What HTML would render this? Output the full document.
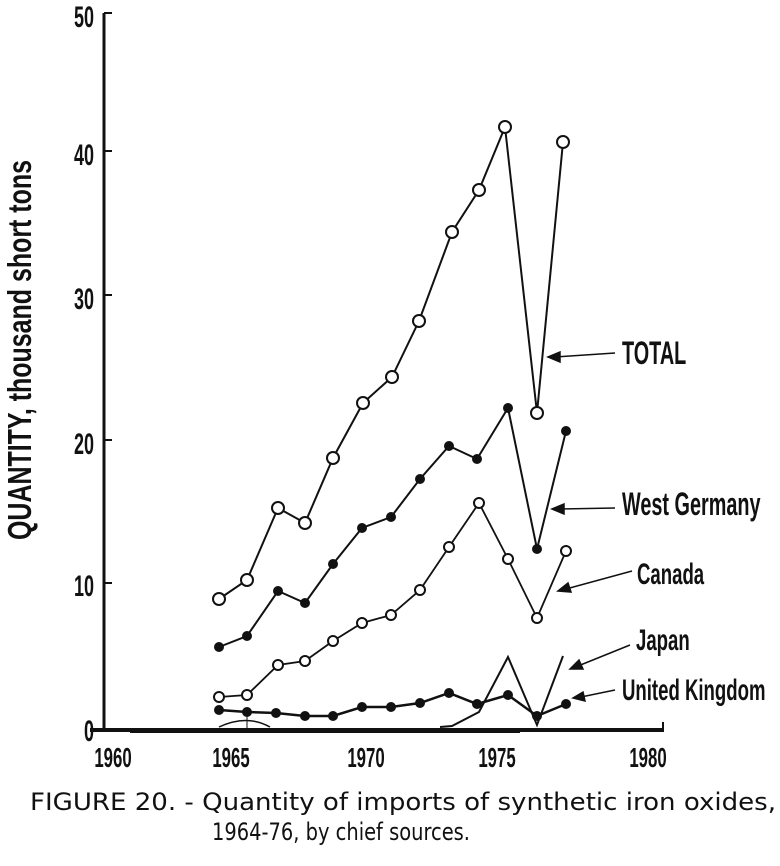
<!DOCTYPE html>
<html><head><meta charset="utf-8"><style>
html,body{margin:0;padding:0;background:#fff;}
svg{display:block;}
.c{font-family:"Liberation Sans Narrow","Liberation Sans",sans-serif;font-weight:bold;fill:#111;}
.cap{font-family:"DejaVu Sans","Liberation Sans",sans-serif;fill:#111;font-size:24px;}
</style></head><body>
<svg width="780" height="866" viewBox="0 0 780 866" xmlns="http://www.w3.org/2000/svg">
<g stroke="#111" fill="none">
<line x1="104" y1="13" x2="104" y2="731" stroke-width="3"/>
<line x1="104" y1="13" x2="112" y2="13" stroke-width="2"/>
<line x1="104" y1="151" x2="112" y2="151" stroke-width="2"/>
<line x1="104" y1="295" x2="112" y2="295" stroke-width="2"/>
<line x1="104" y1="440" x2="112" y2="440" stroke-width="2"/>
<line x1="104" y1="583" x2="112" y2="583" stroke-width="2"/>
<line x1="90" y1="730" x2="663" y2="730" stroke-width="4"/>
<line x1="663" y1="722" x2="663" y2="732" stroke-width="2"/>
<rect x="130" y="728" width="390" height="5" fill="#111" stroke="none"/>
<path d="M219,727 Q247,714 270,727" stroke-width="1.5"/>
<line x1="247" y1="716" x2="247" y2="728" stroke-width="1"/>
<polyline points="440,727 452,726 479,712 508,657 537,725 563,656" stroke-width="2"/>
<polyline points="219,599 247,580 278,508 305,523 333,458 363,403 392,377 419,321 452,232 479,190 505,127 537,413 563,142" stroke-width="2"/>
<polyline points="219,647 247,636 278,591 305,603 333,564 362,528 391,517 420,479 449,446 477,459 508,408 537,549 566,431" stroke-width="2"/>
<polyline points="219,697 247,695 278,665 305,661 333,641 362,623 391,615 420,590 449,547 479,503 508,559 537,618 566,551" stroke-width="1.8"/>
<polyline points="219,710 247,712 276,713 305,716 333,716 362,707 391,707 420,703 449,693 477,704 508,695 537,716 566,704" stroke-width="2.5"/>
</g>
<g fill="#fff" stroke="#111" stroke-width="2">
<circle cx="219" cy="599" r="6"/><circle cx="247" cy="580" r="6"/><circle cx="278" cy="508" r="6"/><circle cx="305" cy="523" r="6"/><circle cx="333" cy="458" r="6"/><circle cx="363" cy="403" r="6"/><circle cx="392" cy="377" r="6"/><circle cx="419" cy="321" r="6"/><circle cx="452" cy="232" r="6"/><circle cx="479" cy="190" r="6"/><circle cx="505" cy="127" r="6"/><circle cx="537" cy="413" r="6"/><circle cx="563" cy="142" r="6"/>
<circle cx="219" cy="697" r="5"/><circle cx="247" cy="695" r="5"/><circle cx="278" cy="665" r="5"/><circle cx="305" cy="661" r="5"/><circle cx="333" cy="641" r="5"/><circle cx="362" cy="623" r="5"/><circle cx="391" cy="615" r="5"/><circle cx="420" cy="590" r="5"/><circle cx="449" cy="547" r="5"/><circle cx="479" cy="503" r="5"/><circle cx="508" cy="559" r="5"/><circle cx="537" cy="618" r="5"/><circle cx="566" cy="551" r="5"/>
</g>
<g fill="#111">
<circle cx="219" cy="647" r="5"/><circle cx="247" cy="636" r="5"/><circle cx="278" cy="591" r="5"/><circle cx="305" cy="603" r="5"/><circle cx="333" cy="564" r="5"/><circle cx="362" cy="528" r="5"/><circle cx="391" cy="517" r="5"/><circle cx="420" cy="479" r="5"/><circle cx="449" cy="446" r="5"/><circle cx="477" cy="459" r="5"/><circle cx="508" cy="408" r="5"/><circle cx="537" cy="549" r="5"/><circle cx="566" cy="431" r="5"/>
<circle cx="219" cy="710" r="5"/><circle cx="247" cy="712" r="5"/><circle cx="276" cy="713" r="5"/><circle cx="305" cy="716" r="5"/><circle cx="333" cy="716" r="5"/><circle cx="362" cy="707" r="5"/><circle cx="391" cy="707" r="5"/><circle cx="420" cy="703" r="5"/><circle cx="449" cy="693" r="5"/><circle cx="477" cy="704" r="5"/><circle cx="508" cy="695" r="5"/><circle cx="537" cy="716" r="5"/><circle cx="566" cy="704" r="5"/>
</g>
<g stroke="#111" stroke-width="1.5" fill="#111">
<line x1="615" y1="353" x2="555" y2="357"/><polygon points="548,357 560,352 560,362"/>
<line x1="615" y1="508" x2="560" y2="509"/><polygon points="552,509 564,504 564,514"/>
<line x1="632" y1="571" x2="566" y2="589"/><polygon points="558,591 568,583 571,592"/>
<line x1="630" y1="645" x2="578" y2="666"/><polygon points="570,669 579,660 583,669"/>
<line x1="615" y1="690" x2="581" y2="697"/><polygon points="573,698 583,692 585,701"/>
</g>
<g class="c">
<text transform="translate(622,364) scale(0.62,1)" font-size="32">TOTAL</text>
<text transform="translate(622,515) scale(0.62,1)" font-size="32">West Germany</text>
<text transform="translate(637,584) scale(0.62,1)" font-size="30">Canada</text>
<text transform="translate(636,650) scale(0.62,1)" font-size="30">Japan</text>
<text transform="translate(622,700) scale(0.62,1)" font-size="30">United Kingdom</text>
<g font-size="30" text-anchor="end">
<text transform="translate(94,27) scale(0.6,1)">50</text>
<text transform="translate(94,165) scale(0.6,1)">40</text>
<text transform="translate(94,309) scale(0.6,1)">30</text>
<text transform="translate(94,454) scale(0.6,1)">20</text>
<text transform="translate(94,596) scale(0.6,1)">10</text>
<text transform="translate(94,741) scale(0.6,1)">0</text>
</g>
<g font-size="28" text-anchor="middle">
<text transform="translate(113,767) scale(0.6,1)">1960</text>
<text transform="translate(231,767) scale(0.6,1)">1965</text>
<text transform="translate(366,767) scale(0.6,1)">1970</text>
<text transform="translate(497,767) scale(0.6,1)">1975</text>
<text transform="translate(648,767) scale(0.6,1)">1980</text>
</g>
<text transform="translate(31,540) rotate(-90)" font-size="33" textLength="380" lengthAdjust="spacingAndGlyphs">QUANTITY, thousand short tons</text>
</g>
<text class="cap" x="30" y="810" textLength="746" lengthAdjust="spacingAndGlyphs">FIGURE 20. - Quantity of imports of synthetic iron oxides,</text>
<text class="cap" x="212" y="840" textLength="258" lengthAdjust="spacingAndGlyphs">1964-76, by chief sources.</text>
</svg>
</body></html>
